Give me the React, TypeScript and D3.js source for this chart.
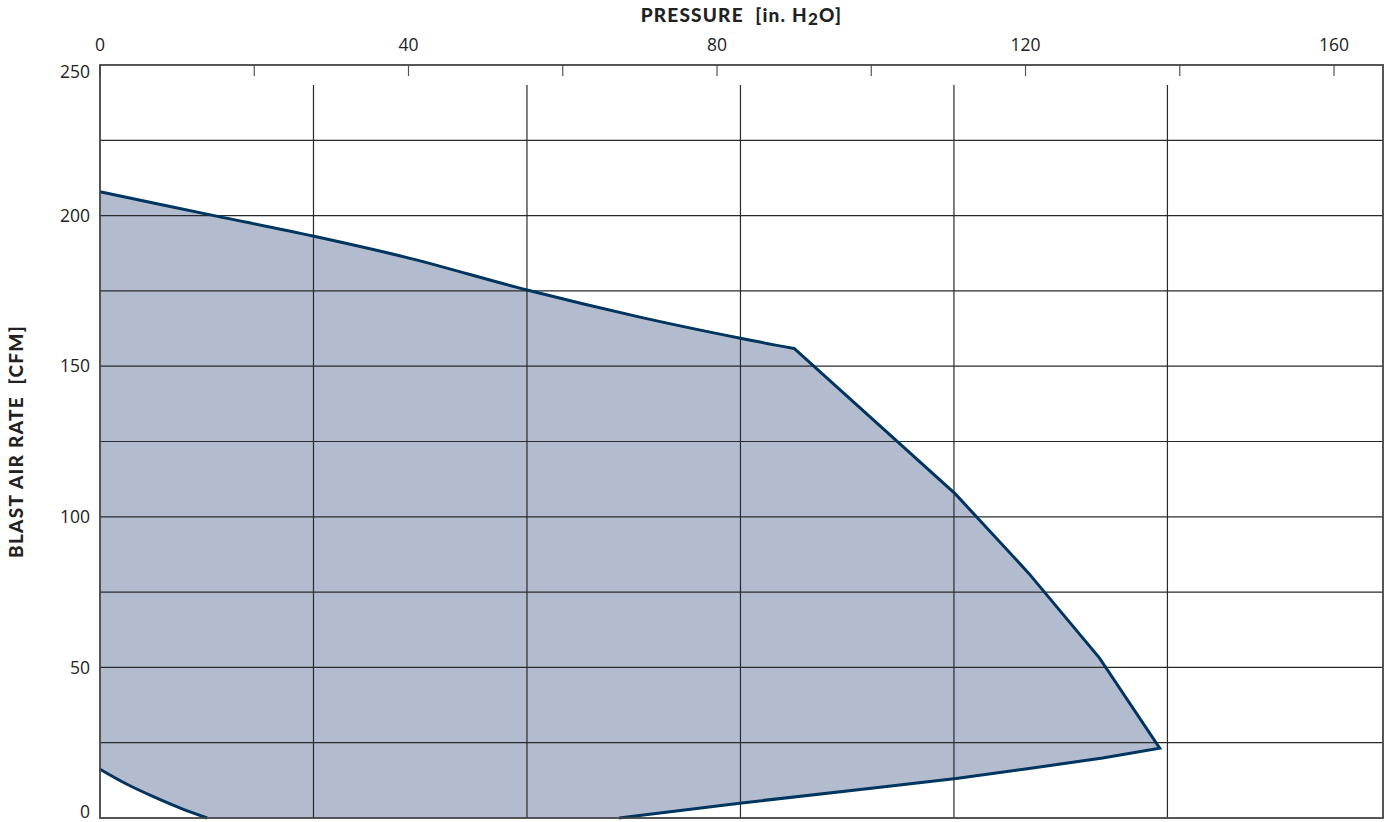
import React from "react";
import * as d3 from "d3";

// Pressure in in. H2O, blast air rate in CFM
const upperSmooth: [number, number][] = [
  [0, 207.9], [14.8, 200], [27.6, 193.2], [40.2, 185.8], [55.5, 175.2], [70, 166.3],
  [83.2, 159.2], [90, 155.9],
];
const upperSteep: [number, number][] = [
  [90, 155.9], [110.9, 107.6], [120.4, 81.3], [129.6, 53.1], [137.4, 23.2],
];
const bottomLine: [number, number][] = [
  [137.4, 23.2], [130, 19.9], [120, 16.3], [111, 13.1], [100, 9.9], [83.2, 5.0], [67.3, 0],
];
const lowerLeftCurve: [number, number][] = [
  [13.9, 0], [10.5, 3.2], [7, 7.0], [3.5, 11.2], [0, 16.2],
];
const xTickLabels = [0, 40, 80, 120, 160];
const xMinorTicks = [0, 20, 40, 60, 80, 100, 120, 140, 160];
const yTickLabels = [0, 50, 100, 150, 200, 250];
const yGrid = [25, 50, 75, 100, 125, 150, 175, 200, 225];
const psiGrid = [1, 2, 3, 4, 5]; // vertical gridlines at psi values
const IN_H2O_PER_PSI = 27.68;

const X_MAX = 166.35;

export default function App() {
  const left = 100, right = 1383, top = 65, bottom = 818;
  const x = d3.scaleLinear().domain([0, X_MAX]).range([left, right]);
  const y = d3.scaleLinear().domain([0, 250]).range([bottom, top]);

  const mk = (curve: d3.CurveFactory) =>
    d3.line<[number, number]>().x((d) => x(d[0])).y((d) => y(d[1])).curve(curve);
  const smooth = mk(d3.curveCatmullRom.alpha(0.5));
  const lin = mk(d3.curveLinear);
  const cont = (s: string | null) => (s || "").replace(/^M/, "L");

  const strokeMain = (smooth(upperSmooth) || "") + cont(lin(upperSteep)) + cont(lin(bottomLine));
  const strokeLower = smooth(lowerLeftCurve) || "";
  const fillPath = strokeMain + cont(strokeLower) + "Z";

  const labelY = (t: number) => (t === 250 ? y(t) + 7 : t === 0 ? y(t) - 6 : y(t));

  const gridColor = "#2a2a2a";
  const font = "'Open Sans', 'Noto Sans', sans-serif";
  const titleFont = "Lato, 'Open Sans', sans-serif";

  return (
    <svg width={1390} height={822} style={{ position: "absolute", left: 0, top: 0, background: "#fff" }}>
      <path d={fillPath} fill="#b3bccf" stroke="none" />
      {yGrid.map((v) => (
        <line key={"h" + v} x1={left} x2={right} y1={y(v)} y2={y(v)} stroke={gridColor} strokeWidth={1.2} />
      ))}
      {psiGrid.map((p) => (
        <line key={"v" + p} x1={x(p * IN_H2O_PER_PSI)} x2={x(p * IN_H2O_PER_PSI)} y1={85} y2={bottom} stroke={gridColor} strokeWidth={1.2} />
      ))}
      {xMinorTicks.map((t) => (
        <line key={"t" + t} x1={x(t)} x2={x(t)} y1={top} y2={top + 11} stroke="#555" strokeWidth={1.2} />
      ))}
      <path d={strokeMain} fill="none" stroke="#00355f" strokeWidth={3} strokeLinejoin="miter" />
      <path d={strokeLower} fill="none" stroke="#00355f" strokeWidth={3} />
      <rect x={left} y={top} width={right - left} height={bottom - top} fill="none" stroke="#444" strokeWidth={1.8} />
      {xTickLabels.map((t) => (
        <text key={"xl" + t} x={x(t)} y={51} textAnchor="middle" fontFamily={font} fontSize={17.5} fill="#222">{t}</text>
      ))}
      {yTickLabels.map((t) => (
        <text key={"yl" + t} x={90} y={labelY(t)} dy="0.35em" textAnchor="end" fontFamily={font} fontSize={17.5} fill="#222">{t}</text>
      ))}
      <text x={(left + right) / 2} y={22} textAnchor="middle" fontFamily={titleFont} fontWeight={900} fontSize={19} fill="#222" letterSpacing={1.2}>
        PRESSURE{"\u00a0\u00a0"}[in. H<tspan fontSize={17} dy={3}>2</tspan><tspan dy={-3}>O]</tspan>
      </text>
      <text transform={`translate(23, ${(top + bottom) / 2}) rotate(-90)`} textAnchor="middle" fontFamily={titleFont} fontWeight={900} fontSize={19} fill="#222" letterSpacing={1.3}>
        BLAST AIR RATE{"\u00a0\u00a0"}[CFM]
      </text>
    </svg>
  );
}
